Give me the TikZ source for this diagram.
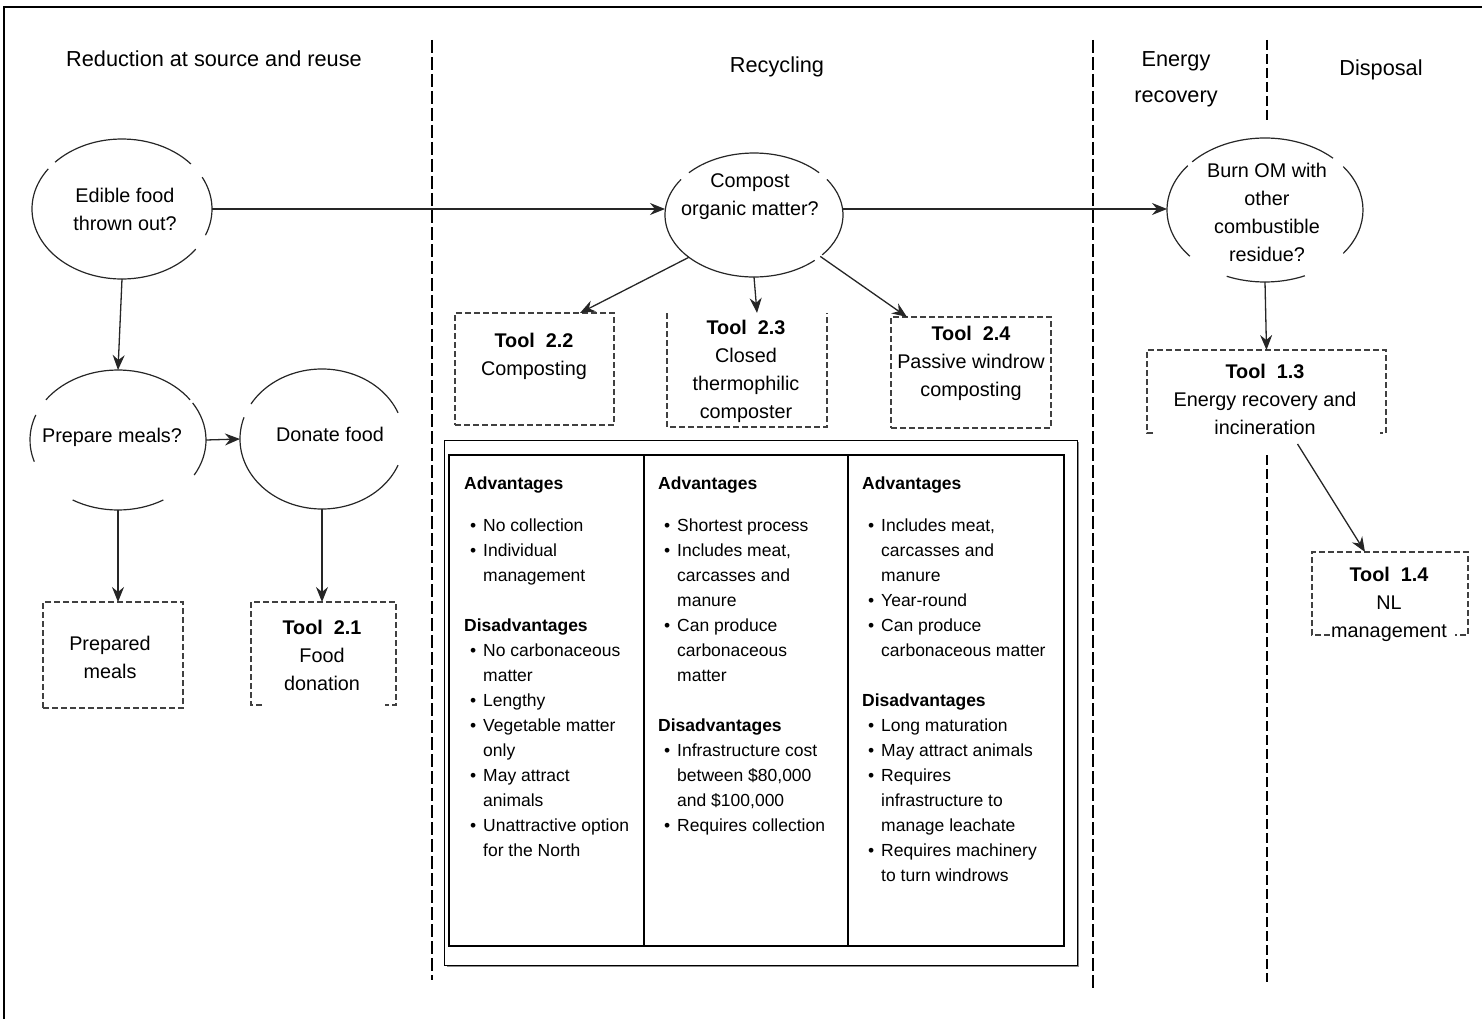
\documentclass[tikz,border=0pt]{standalone}
\usepackage{fontspec}
\setmainfont{Liberation Sans}
\usetikzlibrary{arrows.meta,shapes.geometric,calc}

% arc of an oval drawn around a named node; angles measured on the page
\newcommand\ovalarc[5]{%
  \pgfmathsetmacro\arcfrom{-(#4)}\pgfmathsetmacro\arcto{-(#5)}%
  \draw[oval] ([shift={(\arcfrom:#2 and #3)}]#1.center)
    arc[start angle=\arcfrom, end angle=\arcto, x radius=#2, y radius=#3];}
% bullet lines in the comparison table
\newcommand\bul{\makebox[19pt][l]{\hspace{6pt}\textbullet}}
\newcommand\cont{\hspace*{19pt}}

\begin{document}
\begin{tikzpicture}[x=1pt,y=-1pt,
  oval/.style={line width=1.2pt, black!85},
  ovalnode/.style={ellipse, inner sep=0pt, outer sep=0pt},
  boxshape/.style={rectangle, inner sep=0pt, outer sep=0pt},
  dbox/.style={line width=1.3pt, black!75, dash pattern=on 6pt off 3pt},
  fullbox/.style={boxshape, draw=black!75, line width=1.3pt, dash pattern=on 6pt off 3pt},
  divider/.style={line width=2.2pt, dash pattern=on 13pt off 4pt},
  thindiv/.style={line width=1.3pt, dash pattern=on 10pt off 4pt},
  arr/.style={-{Stealth[length=15pt,width=12pt,inset=5pt]}, line width=1.3pt, black!85},
  hdr/.style={inner sep=0pt, align=center, font=\fontsize{21.7}{28}\selectfont,
    execute at begin node=\strut, execute at end node=\strut},
  lbl/.style={inner sep=0pt, align=center, font=\fontsize{19.8}{28}\selectfont,
    execute at begin node=\strut, execute at end node=\strut},
  coltext/.style={anchor=north west, inner sep=0pt, align=left,
    font=\fontsize{17.5}{25}\selectfont,
    execute at begin node=\strut, execute at end node=\strut}
]
\useasboundingbox (0,0) rectangle (1482,1019);

% frame
\draw[line width=2pt] (4,1019) -- (4,7) -- (1482,7);

% section dividers
\draw[divider] (432,40) -- (432,980);
\draw[divider] (1093,40) -- (1093,990);
\draw[thindiv] (1267,40) -- (1267,120);
\draw[thindiv] (1267,455) -- (1267,982);

% section headings
\node[hdr] (hreduce) at (214,61) {Reduction at source and reuse};
\node[hdr] (hrecycle) at (777,67) {Recycling};
\node[hdr] (henergy) at (1176,81) {Energy\\[8pt]recovery};
\node[hdr] (hdispose) at (1381,70) {Disposal};

% decision ovals
\node[ovalnode, minimum width=180pt, minimum height=140pt] (e1) at (122,209) {};
\node[ovalnode, minimum width=176pt, minimum height=140pt] (e2) at (118,440) {};
\node[ovalnode, minimum width=164pt, minimum height=140pt] (e3) at (322,439) {};
\node[ovalnode, minimum width=178pt, minimum height=124pt] (e4) at (754,215) {};
\node[ovalnode, minimum width=196pt, minimum height=144pt] (e5) at (1265,210) {};

\ovalarc{e1}{90}{70}{40}{138}
\ovalarc{e1}{90}{70}{145}{325}
\ovalarc{e1}{90}{70}{338}{387}

\ovalarc{e2}{88}{70}{35}{145}
\ovalarc{e2}{88}{70}{159}{198}
\ovalarc{e2}{88}{70}{239}{301}
\ovalarc{e2}{88}{70}{330}{392}

\ovalarc{e3}{82}{70}{22}{150}
\ovalarc{e3}{82}{70}{162}{338}

\ovalarc{e4}{89}{62}{43}{137}
\ovalarc{e4}{89}{62}{145}{313}
\ovalarc{e4}{89}{62}{320}{395}

\ovalarc{e5}{98}{72}{46}{138}
\ovalarc{e5}{98}{72}{142}{220}
\ovalarc{e5}{98}{72}{247}{294}
\ovalarc{e5}{98}{72}{323}{397}

\node[lbl] (e1t) at (125,214) {Edible food\\thrown out?};
\node[lbl] (e2t) at (112,437) {Prepare meals?};
\node[lbl] (e3t) at (330,436) {Donate food};
\node[lbl] (e4t) at (750,199) {Compost\\organic matter?};
\node[lbl] (e5t) at (1267,216.5) {Burn OM with\\other\\combustible\\residue?};

% tool boxes
\node[fullbox, minimum width=140pt, minimum height=106pt] (pm) at (113,655) {};
\node[boxshape, minimum width=145pt, minimum height=103pt] (t21) at (323.5,653.5) {};
\node[fullbox, minimum width=159pt, minimum height=112pt] (t22) at (534.5,369) {};
\node[boxshape, minimum width=160pt, minimum height=114pt] (t23) at (747,370) {};
\node[fullbox, minimum width=160pt, minimum height=111pt] (t24) at (971,372.5) {};
\node[boxshape, minimum width=239pt, minimum height=83pt] (t13) at (1266.5,391.5) {};
\node[boxshape, minimum width=156pt, minimum height=83pt] (t14) at (1390,593.5) {};

\node[lbl] (pmt) at (110,662) {Prepared\\meals};
\node[lbl] (t21t) at (322,660) {\textbf{Tool\ \ 2.1}\\Food\\donation};
\node[lbl] (t22t) at (534,359) {\textbf{Tool\ \ 2.2}\\Composting};
\node[lbl] (t23t) at (746,374) {\textbf{Tool\ \ 2.3}\\Closed\\thermophilic\\composter};
\node[lbl] (t24t) at (971,366) {\textbf{Tool\ \ 2.4}\\Passive windrow\\composting};
\node[lbl] (t13t) at (1265,404) {\textbf{Tool\ \ 1.3}\\Energy recovery and\\incineration};
\node[lbl] (t14t) at (1389,607) {\textbf{Tool\ \ 1.4}\\NL\\management};

% open outlines of the remaining boxes
\draw[dbox] ($(t21.south west)+(11,0)$) -- (t21.south west) -- (t21.north west)
  -- (t21.north east) -- (t21.south east) -- ++(-11,0);
\draw[dbox] (t23.north west) -- (t23.south west) -- (t23.south east) -- (t23.north east);
\draw[dbox] ($(t13.south west)+(6,0)$) -- (t13.south west) -- (t13.north west)
  -- (t13.north east) -- (t13.south east) -- ++(-6,0);
\draw[dbox] ($(t14.south west)+(18,0)$) -- (t14.south west) -- (t14.north west)
  -- (t14.north east) -- (t14.south east) -- ++(-13,0);

% connectors
\draw[arr] (e1.east) -- (e1.east -| e4.west);
\draw[arr] (e1.east -| e4.east) -- (e1.east -| e5.west);
\draw[arr] (e1.south) -- (e2.north);
\draw[arr] (e2.east) -- (e3.west);
\draw[arr] (e2.south) -- (e2.south |- pm.north);
\draw[arr] (e3.south) -- (e3.south |- t21.north);
\draw[arr] (e4.-147) -- ($(t22.north east)+(-34,0)$);
\draw[arr] (e4.south) -- ($(t23.north)+(10,0)$);
\draw[arr] (e4.-32) -- ($(t24.north west)+(16,0)$);
\draw[arr] (e5.south) -- (t13.north);
\draw[arr] ($(t13.south)+(31,11)$) -- ($(t14.north)+(-25,0)$);

% comparison table
\draw[black!45, line width=2pt] (447,966) -- (1078,966) -- (1078,442);
\draw[line width=0.8pt] (444,440) rectangle (1077,965);
\draw[line width=2.5pt] (449,455) rectangle (1064,946);
\draw[line width=1.5pt] (644,455) -- (644,946);
\draw[line width=1.5pt] (848,455) -- (848,946);

\node[coltext] (c1) at (464,476.5) {%
\textbf{Advantages}\\[17pt]
\bul No collection\\
\bul Individual\\
\cont management\\[25pt]
\textbf{Disadvantages}\\
\bul No carbonaceous\\
\cont matter\\
\bul Lengthy\\
\bul Vegetable matter\\
\cont only\\
\bul May attract\\
\cont animals\\
\bul Unattractive option\\
\cont for the North};

\node[coltext] (c2) at (658,476.5) {%
\textbf{Advantages}\\[17pt]
\bul Shortest process\\
\bul Includes meat,\\
\cont carcasses and\\
\cont manure\\
\bul Can produce\\
\cont carbonaceous\\
\cont matter\\[25pt]
\textbf{Disadvantages}\\
\bul Infrastructure cost\\
\cont between \$80,000\\
\cont and \$100,000\\
\bul Requires collection};

\node[coltext] (c3) at (862,476.5) {%
\textbf{Advantages}\\[17pt]
\bul Includes meat,\\
\cont carcasses and\\
\cont manure\\
\bul Year-round\\
\bul Can produce\\
\cont carbonaceous matter\\[25pt]
\textbf{Disadvantages}\\
\bul Long maturation\\
\bul May attract animals\\
\bul Requires\\
\cont infrastructure to\\
\cont manage leachate\\
\bul Requires machinery\\
\cont to turn windrows};
\end{tikzpicture}
\end{document}
